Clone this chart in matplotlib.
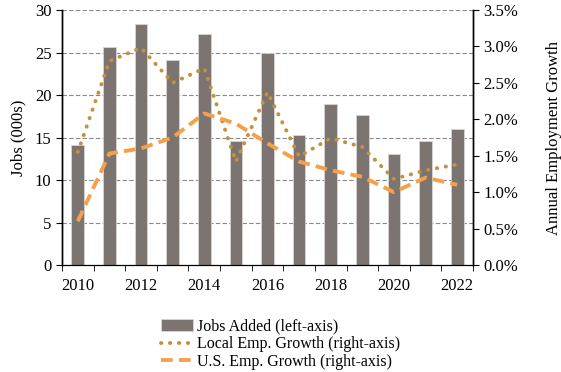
import matplotlib

matplotlib.use("Agg")
import matplotlib.pyplot as plt
import numpy as np
from matplotlib.ticker import FixedLocator, PercentFormatter

years = [2010, 2011, 2012, 2013, 2014, 2015, 2016, 2017, 2018, 2019, 2020, 2021, 2022]
jobs_added = [14.1, 25.6, 28.4, 24.1, 27.2, 14.6, 24.9, 15.3, 19.0, 17.6, 13.1, 14.6, 16.0]
local_growth = [1.55, 2.80, 2.98, 2.50, 2.70, 1.42, 2.37, 1.49, 1.74, 1.62, 1.18, 1.30, 1.38]
us_growth = [0.60, 1.53, 1.60, 1.75, 2.08, 1.94, 1.67, 1.42, 1.30, 1.21, 1.00, 1.20, 1.10]

BAR = "#7b7471"
LOCAL = "#c4913d"
US = "#f5a04b"

plt.rcParams["font.family"] = ["Liberation Serif", "DejaVu Serif"]

fig = plt.figure(figsize=(5.61, 3.72), dpi=100)
ax = fig.add_axes([62 / 561, 1 - 265 / 372, (473 - 62) / 561, (265 - 10) / 372])
ax2 = ax.twinx()

x = np.arange(len(years))
bars = ax.bar(x, jobs_added, width=0.4, color=BAR, edgecolor="#d8d4d2", linewidth=0.6,
              zorder=2, label="Jobs Added (left-axis)")
ax.set_ylim(0, 30)
ax.set_yticks(range(0, 31, 5))
ax.grid(axis="y", linestyle=(0, (4, 2)), color="#8a8a8a", linewidth=0.8, zorder=0)
ax.set_axisbelow(True)
ax.set_xlim(-0.5, len(years) - 0.5)
ax.set_xticks(x[::2])
ax.set_xticklabels([str(y) for y in years[::2]])
ax.tick_params(axis="x", which="major", length=0, pad=9)
ax.xaxis.set_minor_locator(FixedLocator(np.arange(-0.5, len(years), 1.0)))
ax.tick_params(axis="x", which="minor", length=4, direction="out")
ax.tick_params(axis="y", length=4, direction="out")
ax.tick_params(labelsize=12)
ax.set_ylabel("Jobs (000s)", fontsize=12, labelpad=6)

l1, = ax2.plot(x, local_growth, color=LOCAL, linestyle=(0, (0.1, 2.2)), linewidth=2.8,
               dash_capstyle="round", label="Local Emp. Growth (right-axis)", zorder=3)
l2, = ax2.plot(x, us_growth, color=US, linestyle=(0, (3, 1.6)), linewidth=2.8,
               label="U.S. Emp. Growth (right-axis)", zorder=4)
ax2.set_ylim(0, 3.5)
ax2.set_yticks(np.arange(0, 3.51, 0.5))
ax2.yaxis.set_major_formatter(PercentFormatter(decimals=1))
ax2.tick_params(axis="y", length=4, direction="out", labelsize=12)
ax2.set_ylabel("Annual Employment Growth", fontsize=12, labelpad=20)

for a in (ax, ax2):
    a.spines["top"].set_visible(False)
    a.spines["left"].set_linewidth(1.0)
    a.spines["right"].set_linewidth(1.0)

fig.legend(handles=[bars, l1, l2], loc="upper center", bbox_to_anchor=(0.5, 0.165),
           frameon=False, fontsize=11.5, handlelength=2.0, handletextpad=0.2,
           labelspacing=0.1, borderpad=0)

fig.savefig("out.png", dpi=100)
